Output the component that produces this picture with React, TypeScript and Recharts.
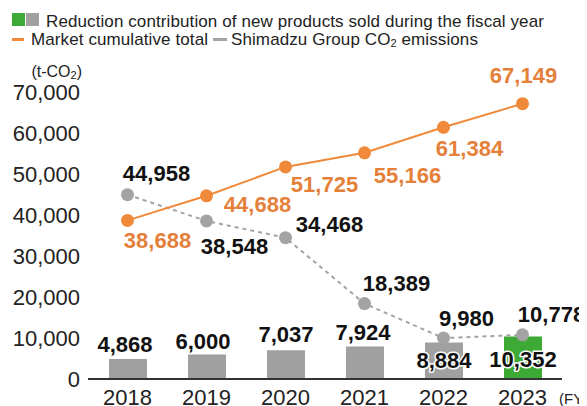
import React from 'react';
import { ComposedChart, Bar, Line, XAxis, YAxis, LabelList, Cell } from 'recharts';

const years = ['2018', '2019', '2020', '2021', '2022', '2023'];
const newProductReduction = [4868, 6000, 7037, 7924, 8884, 10352];
const marketCumulative = [38688, 44688, 51725, 55166, 61384, 67149];
const groupEmissions = [44958, 38548, 34468, 18389, 9980, 10778];
const yTicks = [0, 10000, 20000, 30000, 40000, 50000, 60000, 70000];

const barColors = ['#a0a0a0', '#a0a0a0', '#a0a0a0', '#a0a0a0', '#a0a0a0', '#3daa35'];
const ORANGE = '#f08a3a';
const ORANGE_TEXT = '#e5803a';
const GRAY = '#a3a3a3';
const FONT = '"Liberation Sans", Arial, Helvetica, sans-serif';

// label centre offsets relative to the anchor point (style only)
const barLabelOffsets = [[-3, -15], [-4, -13], [0, -16], [-2, -14], [0, 18], [0, 23]];
const marketLabelOffsets = [[30, 20], [51, 9], [39, 18], [43, 23], [26, 21], [1, -28]];
const emissionLabelOffsets = [[29, -21], [28, 26], [44, -13], [32, -20], [23, -20], [29, -20]];

const data = years.map((y, i) => ({
  year: y,
  bar: newProductReduction[i],
  market: marketCumulative[i],
  emissions: groupEmissions[i],
}));

const makeLabel = (offsets: number[][], color: string, isBar: boolean) => (props: any) => {
  const { x, y, width, value, index } = props;
  const cx = Number(x) + (isBar ? Number(width) / 2 : 0);
  const cy = Number(y);
  const [dx, dy] = offsets[index] || [0, 0];
  return (
    <text
      x={cx + dx}
      y={cy + dy}
      textAnchor="middle"
      dominantBaseline="central"
      fontFamily={FONT}
      fontWeight="bold"
      fontSize={22}
      fill={color}
      stroke="#fff"
      strokeWidth={3}
      strokeLinejoin="round"
      paintOrder="stroke"
    >
      {Number(value).toLocaleString('en-US')}
    </text>
  );
};

const abs = (left: number, top: number, extra: any = {}) => ({
  position: 'absolute' as const,
  left,
  top,
  fontFamily: FONT,
  fontSize: 17,
  lineHeight: '17px',
  letterSpacing: '0.1px',
  color: '#222',
  whiteSpace: 'nowrap' as const,
  ...extra,
});

export default function App() {
  return (
    <div style={{ position: 'relative', width: 587, height: 406, margin: '-8px 0 0 -8px', background: '#fff', overflow: 'hidden' }}>
      <div style={{ position: 'absolute', left: 12, top: 13, width: 12.5, height: 13, background: '#3daa35' }} />
      <div style={{ position: 'absolute', left: 26, top: 13, width: 13, height: 13, background: '#a0a0a0' }} />
      <div style={abs(46, 13)}>Reduction contribution of new products sold during the fiscal year</div>
      <div style={{ position: 'absolute', left: 12, top: 38, width: 11.5, height: 2.5, background: ORANGE }} />
      <div style={abs(31, 31)}>Market cumulative total</div>
      <div style={{ position: 'absolute', left: 213, top: 38, width: 14, height: 2.5, background: GRAY }} />
      <div style={abs(231, 31)}>
        Shimadzu Group CO<span style={{ fontSize: 11, verticalAlign: -2 }}>2</span> emissions
      </div>
      <div style={abs(0, 64, { width: 82, textAlign: 'right', fontSize: 16, lineHeight: '16px', letterSpacing: 0 })}>
        (t-CO<span style={{ fontSize: 11, verticalAlign: -2 }}>2</span>)
      </div>
      <div style={abs(559, 391, { fontSize: 15, lineHeight: '15px', letterSpacing: 0 })}>(FY)</div>
      <div style={{ position: 'absolute', left: 0, top: 0 }}>
        <ComposedChart
          width={587}
          height={406}
          data={data}
          margin={{ top: 92, right: 25, bottom: 0, left: 0 }}
        >
          <XAxis
            dataKey="year"
            axisLine={{ stroke: '#333', strokeWidth: 2 }}
            tickLine={false}
            tickMargin={4}
            height={27}
            tick={{ fontFamily: FONT, fontSize: 22, fill: '#222' }}
            interval={0}
          />
          <YAxis
            domain={[0, 70000]}
            ticks={yTicks}
            axisLine={false}
            tickLine={false}
            tickMargin={2}
            width={88}
            tick={{ fontFamily: FONT, fontSize: 22, fill: '#222' }}
            tickFormatter={(v: number) => v.toLocaleString('en-US')}
            interval={0}
          />
          <Bar dataKey="bar" barSize={38} isAnimationActive={false}>
            {data.map((d, i) => (
              <Cell key={d.year} fill={barColors[i]} />
            ))}
            <LabelList dataKey="bar" content={makeLabel(barLabelOffsets, '#111', true)} />
          </Bar>
          <Line
            dataKey="emissions"
            stroke={GRAY}
            strokeWidth={2}
            strokeDasharray="4 4"
            dot={{ r: 6.5, fill: GRAY, stroke: 'none' }}
            activeDot={false}
            isAnimationActive={false}
          >
            <LabelList dataKey="emissions" content={makeLabel(emissionLabelOffsets, '#111', false)} />
          </Line>
          <Line
            dataKey="market"
            stroke={ORANGE}
            strokeWidth={2}
            dot={{ r: 6.5, fill: ORANGE, stroke: 'none' }}
            activeDot={false}
            isAnimationActive={false}
          >
            <LabelList dataKey="market" content={makeLabel(marketLabelOffsets, ORANGE_TEXT, false)} />
          </Line>
        </ComposedChart>
      </div>
    </div>
  );
}
